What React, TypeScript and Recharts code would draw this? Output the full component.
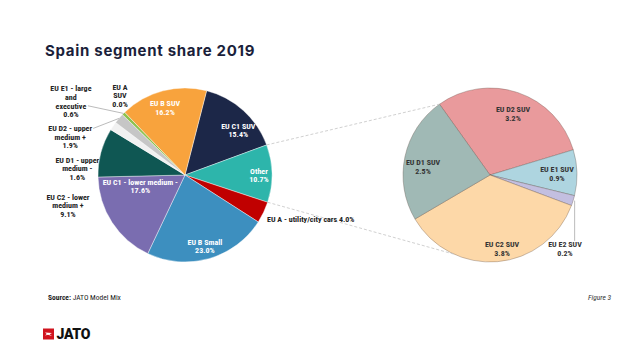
import React from 'react';
import { PieChart, Pie, Cell } from 'recharts';

// ---------- data ----------
const mainNames = [
  'EU C1 SUV',
  'Other',
  'EU A - utility/city cars',
  'EU B Small',
  'EU C1 - lower medium -',
  'EU C2 - lower medium +',
  'EU D1 - upper medium -',
  'EU D2 - upper medium +',
  'EU E1 - large and executive',
  'EU A SUV',
  'EU B SUV',
];
const mainValues = [15.4, 10.7, 4.0, 23.0, 17.6, 9.1, 1.6, 1.9, 0.6, 0.0, 16.2];
const mainLabelLines = [
  ['EU C1 SUV'],
  ['Other'],
  ['EU A - utility/city cars'],
  ['EU B Small'],
  ['EU C1 - lower medium -'],
  ['EU C2 - lower', 'medium +'],
  ['EU D1 - upper', 'medium -'],
  ['EU D2 - upper', 'medium +'],
  ['EU E1 - large', 'and', 'executive'],
  ['EU A', 'SUV'],
  ['EU B SUV'],
];

const otherNames = ['EU D2 SUV', 'EU E1 SUV', 'EU E2 SUV', 'EU C2 SUV', 'EU D1 SUV'];
const otherValues = [3.2, 0.9, 0.2, 3.8, 2.5];

const mainColors = ['#1c2748', '#2db5ab', '#c00000', '#3d8fbf', '#7a6db0', '#0f5753', '#f1f1f1', '#c6c6c6', '#8dc24e', '#b9d37a', '#f8a33d'];
const otherColors = ['#e99a9c', '#aed5e0', '#c3bfe0', '#fdd8a8', '#a0b9b5'];

const mainData = mainNames.map((name, i) => ({ name, value: mainValues[i] }));
const otherData = otherNames.map((name, i) => ({ name, value: otherValues[i] }));

// ---------- layout ----------
const W = 631;
const H = 354;
const LEFT = { cx: 185, cy: 175, r: 87, start: 75.6 };
const RIGHT = { cx: 490, cy: 175, r: 87, start: 125.5 };
const CONNECT_BOTTOM_ANGLE = -114.6;
const FONT = "'Liberation Sans Narrow', 'Roboto Condensed', Roboto, sans-serif";
const FS = 8;
const LH = 8.6;
const RAD = Math.PI / 180;

const polar = (cx: number, cy: number, r: number, a: number) => ({
  x: cx + r * Math.cos(-a * RAD),
  y: cy + r * Math.sin(-a * RAD),
});

type LabelLayout = { a: number; r: number; anchor?: 'start' | 'middle' | 'end'; fill: string; leader?: [number, number] };

const mainLayout: LabelLayout[] = [
  { a: 40, r: 0.8, fill: '#fff' },
  { a: 0, r: 0.85, fill: '#fff' },
  { a: -28.2, r: 1.07, anchor: 'start', fill: '#222' },
  { a: -74.4, r: 0.85, fill: '#fff' },
  { a: 194.3, r: 0.53, fill: '#fff' },
  { a: 194.6, r: 1.39, fill: '#222' },
  { a: 176.6, r: 1.24, fill: '#222' },
  { a: 161.7, r: 1.39, fill: '#222', leader: [23, -7] },
  { a: 147.2, r: 1.56, fill: '#222', leader: [17, 5] },
  { a: 129.3, r: 1.18, fill: '#222' },
  { a: 106.5, r: 0.81, fill: '#fff' },
];

const otherLayout: LabelLayout[] = [
  { a: 69.5, r: 0.755, fill: '#333' },
  { a: 1.3, r: 0.77, fill: '#333' },
  { a: -44.6, r: 1.21, fill: '#333', leader: [10, -8] },
  { a: -80.7, r: 0.856, fill: '#333' },
  { a: 172.8, r: 0.776, fill: '#333' },
];

const renderBlock = (
  x: number,
  y: number,
  lines: string[],
  anchor: string,
  fill: string,
  key: string
) => {
  const top = y - ((lines.length - 1) * LH) / 2 + FS * 0.35;
  return (
    <text
      key={key}
      x={x}
      y={top}
      textAnchor={anchor}
      fill={fill}
      fontFamily={FONT}
      fontSize={FS}
      fontWeight={700}
    >
      {lines.map((l, i) => (
        <tspan key={i} x={x} dy={i === 0 ? 0 : LH}>
          {l}
        </tspan>
      ))}
    </text>
  );
};

const mainLabel = (props: any) => {
  const { cx, cy, outerRadius, midAngle, index } = props;
  const lay = mainLayout[index];
  const p = polar(cx, cy, outerRadius * lay.r, lay.a);
  const pct = `${mainValues[index].toFixed(1)}%`;
  const base = mainLabelLines[index];
  const lines = lay.anchor === 'start' ? [`${base[0]} ${pct}`] : [...base, pct];
  let leader = null;
  if (lay.leader) {
    const n = lines.length;
    const end = polar(cx, cy, outerRadius, midAngle);
    const sy = p.y - ((n - 1) * LH) / 2 + (lay.leader[1] >= 0 ? 2 * LH : 0);
    leader = (
      <line
        x1={p.x + lay.leader[0]}
        y1={sy}
        x2={end.x}
        y2={end.y}
        stroke="#aaa"
        strokeWidth={0.8}
      />
    );
  }
  let connectors = null;
  if (index === 1) {
    // connectors from the "Other" slice to the breakdown pie
    const total = mainValues.reduce((s, v) => s + v, 0);
    const before = mainValues.slice(0, 1).reduce((s, v) => s + v, 0);
    const a0 = LEFT.start - (360 * before) / total;
    const a1 = a0 - (360 * mainValues[1]) / total;
    const s0 = polar(cx, cy, outerRadius, a0);
    const s1 = polar(cx, cy, outerRadius, a1);
    const e0 = polar(RIGHT.cx, RIGHT.cy, RIGHT.r, RIGHT.start);
    const e1 = polar(RIGHT.cx, RIGHT.cy, RIGHT.r, CONNECT_BOTTOM_ANGLE);
    connectors = (
      <g>
        <line x1={s0.x} y1={s0.y} x2={e0.x} y2={e0.y} stroke="#c4c4c4" strokeWidth={0.8} strokeDasharray="3 2" />
        <line x1={s1.x} y1={s1.y} x2={e1.x} y2={e1.y} stroke="#c4c4c4" strokeWidth={0.8} strokeDasharray="3 2" />
      </g>
    );
  }
  return (
    <g>
      {connectors}
      {leader}
      {renderBlock(p.x, p.y, lines, lay.anchor || 'middle', lay.fill, 't')}
    </g>
  );
};

const otherLabel = (props: any) => {
  const { cx, cy, outerRadius, midAngle, index } = props;
  const lay = otherLayout[index];
  const p = polar(cx, cy, outerRadius * lay.r, lay.a);
  const lines = [otherNames[index], `${otherValues[index].toFixed(1)}%`];
  let leader = null;
  if (lay.leader) {
    const start = polar(cx, cy, outerRadius, midAngle);
    leader = (
      <line
        x1={start.x + 1.5}
        y1={start.y}
        x2={start.x + 1.5}
        y2={p.y + lay.leader[1]}
        stroke="#aaa"
        strokeWidth={0.8}
      />
    );
  }
  return (
    <g>
      {leader}
      {renderBlock(p.x, p.y, lines, 'middle', lay.fill, 't')}
    </g>
  );
};

export default function App() {
  return (
    <div
      style={{
        position: 'fixed',
        left: 0,
        top: 0,
        width: W,
        height: H,
        background: '#fff',
        overflow: 'hidden',
      }}
    >
      <div
        style={{
          position: 'absolute',
          left: 45,
          top: 41,
          fontFamily: 'Inter, sans-serif',
          fontWeight: 700,
          fontSize: 15,
          letterSpacing: 0.7,
          color: '#1b1f3b',
          whiteSpace: 'nowrap',
        }}
      >
        Spain segment share 2019
      </div>
      <div style={{ position: 'absolute', left: 0, top: 0 }}>
        <PieChart width={W} height={H} margin={{ top: 0, right: 0, bottom: 0, left: 0 }}>
          <Pie
            data={mainData}
            dataKey="value"
            nameKey="name"
            cx={LEFT.cx}
            cy={LEFT.cy}
            outerRadius={LEFT.r}
            startAngle={LEFT.start}
            endAngle={LEFT.start - 360}
            stroke="#ffffff"
            strokeWidth={0.4}
            label={mainLabel}
            labelLine={false}
            isAnimationActive={false}
          >
            {mainData.map((d, i) => (
              <Cell key={d.name} fill={mainColors[i]} />
            ))}
          </Pie>
          <Pie
            data={otherData}
            dataKey="value"
            nameKey="name"
            cx={RIGHT.cx}
            cy={RIGHT.cy}
            outerRadius={RIGHT.r}
            startAngle={RIGHT.start}
            endAngle={RIGHT.start - 360}
            stroke="rgba(90,70,60,0.45)"
            strokeWidth={0.7}
            label={otherLabel}
            labelLine={false}
            isAnimationActive={false}
          >
            {otherData.map((d, i) => (
              <Cell key={d.name} fill={otherColors[i]} />
            ))}
          </Pie>
        </PieChart>
      </div>
      <div
        style={{
          position: 'absolute',
          left: 48,
          top: 293,
          fontFamily: FONT,
          fontSize: 7.5,
          color: '#222',
          whiteSpace: 'nowrap',
        }}
      >
        <b>Source:</b> JATO Model Mix
      </div>
      <div
        style={{
          position: 'absolute',
          left: 588,
          top: 293,
          fontFamily: FONT,
          fontSize: 7.5,
          fontStyle: 'italic',
          color: '#333',
          whiteSpace: 'nowrap',
        }}
      >
        Figure 3
      </div>
      <div style={{ position: 'absolute', left: 43, top: 327, display: 'flex', alignItems: 'center' }}>
        <svg width={12} height={12} style={{ display: 'block' }}>
          <rect x={0} y={0.5} width={11} height={11} fill="#d0141e" />
          <path d="M2 4.5 L9 5 L6.5 6.3 L9 8 L5 6.8 L2 7.5 L3.8 6 Z" fill="#fff" />
        </svg>
        <span
          style={{
            marginLeft: 1.5,
            fontFamily: 'Roboto, sans-serif',
            fontWeight: 900,
            fontSize: 14,
            lineHeight: '14px',
            color: '#111',
            letterSpacing: -0.3,
          }}
        >
          JATO
        </span>
      </div>
    </div>
  );
}
